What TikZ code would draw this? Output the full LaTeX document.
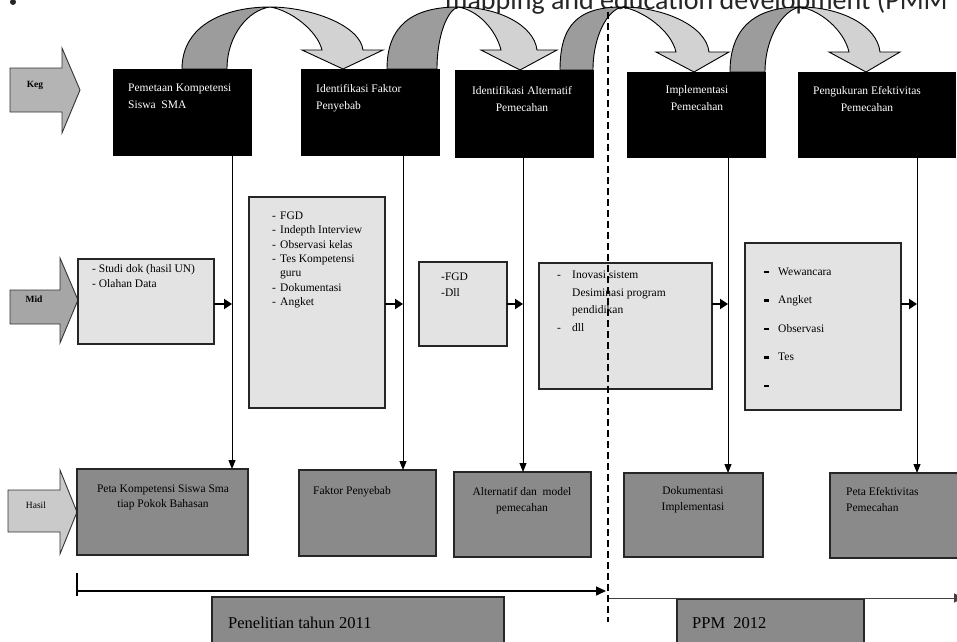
\documentclass[tikz,border=0pt]{standalone}
\usepackage{fontspec}
\setmainfont{Liberation Serif}
\newfontfamily\titlefont{Carlito}
\usetikzlibrary{arrows.meta}
\definecolor{kegfill}{HTML}{B4B4B4}
\definecolor{midfill}{HTML}{A6A6A6}
\definecolor{hasilfill}{HTML}{CACACA}
\definecolor{midbox}{HTML}{E3E3E3}
\definecolor{hasilbox}{HTML}{8A8A8A}
\definecolor{darkbandc}{HTML}{9C9C9C}
\definecolor{lightbandc}{HTML}{D2D2D2}
\newcommand{\rsCurvedArrow}[9]{%
 \filldraw[darkband] (#1,#4) .. controls (#1,{#4-44}) and ({#3-45},7) .. (#3,7)
   .. controls ({(#2+#3)/2},10) and (#2,{#4-34}) .. (#2,#4) -- cycle;
 \filldraw[lightband] (#3,7) .. controls ({#3+40},7) and ({#6-3},25) .. (#6,#8)
   -- ({#6+20},#8) -- (#7,#9) -- ({#5-20},#8) -- (#5,#8)
   .. controls ({#5-5},30) and ({#3+20},10) .. (#3,7) -- cycle;}
\begin{document}
\begin{tikzpicture}[x=1pt,y=-1pt,
  darkband/.style={draw=black,line width=0.9pt,fill=darkbandc},
  lightband/.style={draw=black,line width=0.9pt,fill=lightbandc},
  blockarrow/.style={draw=black!80,line width=0.9pt},
  kbox/.style={draw=black,fill=black,line width=1pt,inner sep=0pt,outer sep=0pt,anchor=north west},
  mbox/.style={draw=black!85,fill=midbox,line width=1.1pt,inner sep=0pt,outer sep=0pt,anchor=north west},
  hbox/.style={draw=black!85,fill=hasilbox,line width=1.1pt,inner sep=0pt,outer sep=0pt,anchor=north west},
  ktext/.style={text=white,inner sep=0pt,font=\fontsize{11.5}{17}\selectfont},
  mtext/.style={text=black,inner sep=0pt,align=left,anchor=north west},
  htext/.style={text=black,inner sep=0pt,font=\fontsize{11.5}{16}\selectfont},
  lbl/.style={text=black,inner sep=0pt,font=\fontsize{9.5}{11}\selectfont\bfseries},
  vline/.style={draw=black,line width=1pt,-{Triangle[length=9pt,width=7pt]}},
  harrow/.style={draw=black,line width=2pt,-{Triangle[length=8pt,width=10pt]}},
  ttext/.style={text=black,inner sep=0pt,font=\fontsize{16.5}{18}\selectfont}]
\useasboundingbox (0,0) rectangle (957,641);
\fill[white] (0,0) rectangle (957,641);
\begin{scope}
\clip (0,0) rectangle (957,641);

% page title fragment (cut at top, as in the scan)
\node[inner sep=0pt,anchor=base west,font=\titlefont\fontsize{28}{30}\selectfont,text=black!85] (title) at (445,9) {mapping and education development (PMM};
\fill[black!85] (13,2) circle (3);

% curved arrows between the activity boxes
\rsCurvedArrow{182}{227}{270}{69}{322}{363}{343}{50}{69}
\rsCurvedArrow{387}{437}{458}{69}{501}{537}{520}{50}{70}
\rsCurvedArrow{560}{593}{622}{70}{676}{709}{694}{52}{72}
\rsCurvedArrow{730}{765}{800}{72}{849}{880}{866}{52}{72}

% row labels (block arrows)
\filldraw[blockarrow,fill=kegfill] (10,68) -- (62,68) -- (62,48) -- (80,90) -- (62,133) -- (62,112) -- (10,112) -- cycle;
\node[lbl] (keg) at (35,85) {Keg};
\filldraw[blockarrow,fill=midfill] (10,290) -- (60,290) -- (60,258) -- (78,300) -- (60,343) -- (60,324) -- (10,324) -- cycle;
\node[lbl] (mid) at (34,299) {Mid};
\filldraw[blockarrow,fill=hasilfill] (8,490) -- (60,490) -- (60,470) -- (77,512) -- (60,554) -- (60,532) -- (8,532) -- cycle;
\node[lbl,font=\fontsize{9.5}{11}\selectfont] (hasil) at (36,505) {Hasil};

% activity boxes
\node[kbox,minimum width=138pt,minimum height=86pt] (k1) at (113,69) {};
\node[kbox,minimum width=138pt,minimum height=86pt] (k2) at (301,69) {};
\node[kbox,minimum width=138pt,minimum height=87pt] (k3) at (455,70) {};
\node[kbox,minimum width=138pt,minimum height=85pt] (k4) at (627,72) {};
\node[kbox,minimum width=157pt,minimum height=85pt] (k5) at (798,72) {};
\node[ktext,anchor=north west,align=left] (k1t) at (128,83.7) {Pemetaan Kompetensi\\Siswa\ \ SMA};
\node[ktext,anchor=north west,align=left] (k2t) at (316,83.7) {Identifikasi Faktor\\Penyebab};
\node[ktext,anchor=north,align=center] (k3t) at (522,85.7) {Identifikasi Alternatif\\Pemecahan};
\node[ktext,anchor=north,align=center] (k4t) at (697,85.7) {Implementasi\\Pemecahan};
\node[ktext,anchor=north,align=center] (k5t) at (867,85.7) {Pengukuran Efektivitas\\Pemecahan};

% method boxes
\node[mbox,minimum width=136pt,minimum height=85pt] (m1) at (78,259) {};
\node[mbox,minimum width=136pt,minimum height=211pt] (m2) at (249,197) {};
\node[mbox,minimum width=88pt,minimum height=84pt] (m3) at (419,262) {};
\node[mbox,minimum width=173pt,minimum height=126pt] (m4) at (539,263) {};
\node[mbox,minimum width=156pt,minimum height=167pt] (m5) at (745,243) {};
\node[mtext,font=\fontsize{11.5}{15}\selectfont] (m1t) at (92,264.7) {- Studi dok (hasil UN)\\- Olahan Data};
\node[mtext,font=\fontsize{11.5}{14.3}\selectfont] (m2t) at (272,211.7) {%
\makebox[8pt][l]{-}FGD\\
\makebox[8pt][l]{-}Indepth Interview\\
\makebox[8pt][l]{-}Observasi kelas\\
\makebox[8pt][l]{-}Tes Kompetensi\\
\makebox[8pt][l]{}guru\\
\makebox[8pt][l]{-}Dokumentasi\\
\makebox[8pt][l]{-}Angket};
\node[mtext,font=\fontsize{11.5}{16}\selectfont] (m3t) at (441,272.7) {-FGD\\-Dll};
\node[mtext,font=\fontsize{11.5}{17.6}\selectfont] (m4t) at (557,270.7) {%
\makebox[15pt][l]{-}Inovasi sistem\\
\makebox[15pt][l]{}Desiminasi program\\
\makebox[15pt][l]{}pendidikan\\
\makebox[15pt][l]{-}dll};
\node[mtext,font=\fontsize{11.5}{28.5}\selectfont] (m5t) at (764,267.7) {%
\makebox[14pt][l]{\rule[2.2pt]{5pt}{2.4pt}}Wewancara\\
\makebox[14pt][l]{\rule[2.2pt]{5pt}{2.4pt}}Angket\\
\makebox[14pt][l]{\rule[2.2pt]{5pt}{2.4pt}}Observasi\\
\makebox[14pt][l]{\rule[2.2pt]{5pt}{2.4pt}}Tes\\
\makebox[14pt][l]{\rule[2.2pt]{5pt}{2.4pt}}};

% result boxes
\node[hbox,minimum width=171pt,minimum height=86pt] (h1) at (77,469) {};
\node[hbox,minimum width=137pt,minimum height=86pt] (h2) at (299,470) {};
\node[hbox,minimum width=137pt,minimum height=85pt] (h3) at (454,472) {};
\node[hbox,minimum width=139pt,minimum height=84pt] (h4) at (624,473) {};
\node[hbox,minimum width=140pt,minimum height=85pt] (h5) at (830,473) {};
\node[htext,anchor=north,align=center,font=\fontsize{11.5}{15}\selectfont] (h1t) at (163,484.7) {Peta Kompetensi Siswa Sma\\tiap Pokok Bahasan};
\node[htext,anchor=north west] (h2t) at (313,486.7) {Faktor Penyebab};
\node[htext,anchor=north,align=center] (h3t) at (522,486.7) {Alternatif dan\ \ model\\pemecahan};
\node[htext,anchor=north,align=center] (h4t) at (693,486.7) {Dokumentasi\\Implementasi};
\node[htext,anchor=north west,align=left] (h5t) at (846,486.7) {Peta Efektivitas\\Pemecahan};

% vertical connectors
\coordinate (v1) at ([xshift=-19pt]k1.south east);
\coordinate (v2) at ([xshift=-36pt]k2.south east);
\coordinate (v3) at ([xshift=-70pt]k3.south east);
\coordinate (v4) at ([xshift=-37pt]k4.south east);
\coordinate (v5) at ([xshift=-38pt]k5.south east);
\draw[vline] (v1) -- (v1 |- h1.north);
\draw[vline] (v2) -- (v2 |- h2.north);
\draw[vline] (v3) -- (v3 |- h3.north);
\draw[vline] (v4) -- (v4 |- h4.north);
\draw[vline] (v5) -- (v5 |- h5.north);

% method -> line arrows
\coordinate (my) at (0,304);
\draw[harrow] (m1.east |- my) -- (v1 |- my);
\draw[harrow] (m2.east |- my) -- (v2 |- my);
\draw[harrow] (m3.east |- my) -- (v3 |- my);
\draw[harrow] (m4.east |- my) -- (v4 |- my);
\draw[harrow] (m5.east |- my) -- (v5 |- my);

% timeline
\node[hbox,minimum width=292pt,minimum height=50pt] (p1) at (212,597) {};
\node[hbox,minimum width=187pt,minimum height=50pt] (p2) at (677,599) {};
\node[ttext,anchor=base west] (p1t) at (228,628) {Penelitian tahun 2011};
\node[ttext,anchor=base west] (p2t) at (692,628) {PPM\ \ 2012};
\coordinate (ts) at (77,591);
\coordinate (te) at (606,591);
\coordinate (tt1) at (77,573);
\coordinate (tt2) at (77,596);
\draw[black,line width=1.4pt] (tt1) -- (tt2);
\draw[black,line width=1.4pt,-{Triangle[length=10pt,width=9pt]}] (ts) -- (te);
\coordinate (rs) at (608,598);
\coordinate (re) at (964,598);
\draw[black!75,line width=1pt,-{Triangle[length=10pt,width=9pt]}] (rs) -- (re);

% dashed divider
\coordinate (d1) at (608,12);
\coordinate (d2) at (608,622);
\draw[black,line width=1.3pt,dash pattern=on 7pt off 4pt] (d1) -- (d2);
\end{scope}
\end{tikzpicture}
\end{document}
